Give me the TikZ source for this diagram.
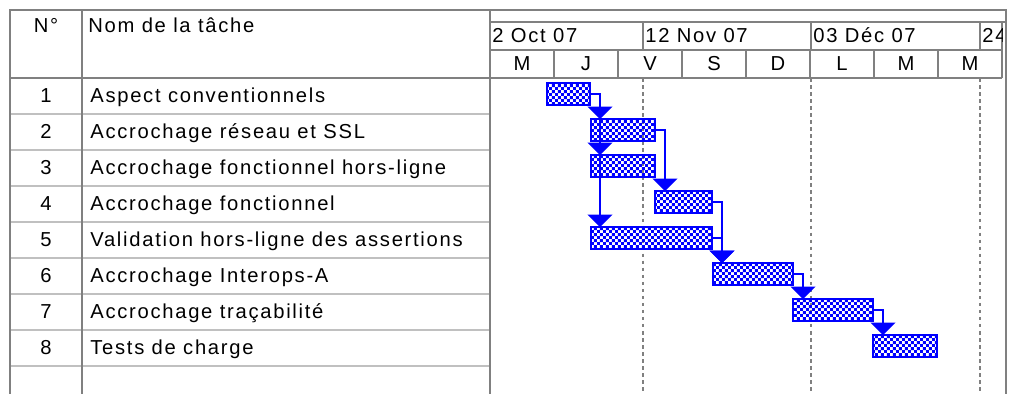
\documentclass[tikz,border=0pt]{standalone}
\usepackage{fontspec}
\setmainfont{Liberation Sans}[LetterSpace=8.5]
\usetikzlibrary{calc,patterns,arrows.meta}
\definecolor{grille}{HTML}{808080}
\definecolor{ligne}{HTML}{C0C0C0}
\pgfdeclarepatternformonly{damier}{\pgfqpoint{0pt}{0pt}}{\pgfqpoint{3.4pt}{3.4pt}}{\pgfqpoint{3.4pt}{3.4pt}}{
  \pgfpathrectangle{\pgfqpoint{0pt}{0pt}}{\pgfqpoint{1.7pt}{1.7pt}}
  \pgfpathrectangle{\pgfqpoint{1.7pt}{1.7pt}}{\pgfqpoint{1.7pt}{1.7pt}}
  \pgfusepath{fill}}

\begin{document}
\begin{tikzpicture}[x=0.02cm,y=-0.02cm,
  every node/.style={font=\fontsize{11.5}{13}\selectfont,inner sep=0pt},
  cadre/.style={grille,line width=1.1pt},
  barre/.style={draw=blue,line width=1.4pt,pattern=damier,pattern color=blue,
    outer sep=0pt,anchor=north west,minimum height=0.44cm},
  lien/.style={blue,line width=1.2pt,-{Triangle[width=14pt,length=7pt]}}]
  \useasboundingbox (0,0) rectangle (1009,394);

  \foreach \y in {114,150,...,366} \draw[ligne,line width=1.1pt] (10,\y) -- (490,\y);
  \draw[cadre] (10,394) -- (10,10) -- (490,10);
  \draw[cadre] (82,10) -- (82,394);
  \draw[cadre] (10,78) -- (490,78);
  \draw[cadre] (490,10) -- (1006,10) -- (1006,394);
  \draw[cadre] (490,22) -- (1006,22);
  \draw[cadre] (490,50) -- (1002,50);
  \draw[cadre] (490,78) -- (1002,78);
  \draw[cadre] (1002,22) -- (1002,78);
  \foreach \x in {643,811,980} {
    \draw[cadre] (\x,22) -- (\x,50);
    \draw[grille,line width=1.1pt,dash pattern=on 2pt off 2pt] (\x,78) -- (\x,394);
  }
  \foreach \x in {554,618,...,938} \draw[cadre] (\x,50) -- (\x,78);
  \draw[grille,line width=1.7pt] (490,10) -- (490,394);

  \node[anchor=base] (hnum) at (46,33) {N°};
  \node[anchor=base west] (hnom) at (88,33) {Nom de la tâche};
  \foreach \i/\t in {1/Aspect conventionnels,2/Accrochage réseau et SSL,
      3/Accrochage fonctionnel hors-ligne,4/Accrochage fonctionnel,
      5/Validation hors-ligne des assertions,6/Accrochage Interops-A,
      7/Accrochage traçabilité,8/Tests de charge} {
    \node[anchor=base] (n\i) at (46,{103+36*(\i-1)}) {\i};
    \node[anchor=base west] (t\i) at (90,{103+36*(\i-1)}) {\t};
  }

  \begin{scope}
    \clip (490,22) rectangle (1002,50);
    \node[anchor=base west] (d1) at (492,43) {2 Oct 07};
    \node[anchor=base west] (d2) at (645,43) {12 Nov 07};
    \node[anchor=base west] (d3) at (813,43) {03 Déc 07};
    \node[anchor=base west] (d4) at (982,43) {24};
  \end{scope}
  \foreach \l [count=\k] in {M,J,V,S,D,L,M,M}
    \node[anchor=base] (j\k) at ({490+64*\k-32},71) {\l};

  \foreach \i/\s/\e in {1/547/590,2/591/655,3/591/655,4/655/712,
      5/591/712,6/713/793,7/793/873,8/873/937}
    \node[barre,minimum width={(\e-\s)*0.02cm}] (b\i) at (\s,{83+36*(\i-1)}) {};

  \foreach \a/\b in {1/2,1/3,1/5,2/4,4/6,5/6,6/7,7/8}
    \draw[lien] (b\a.east) -| ([xshift=0.2cm]b\a.east |- b\b.north);
\end{tikzpicture}
\end{document}
